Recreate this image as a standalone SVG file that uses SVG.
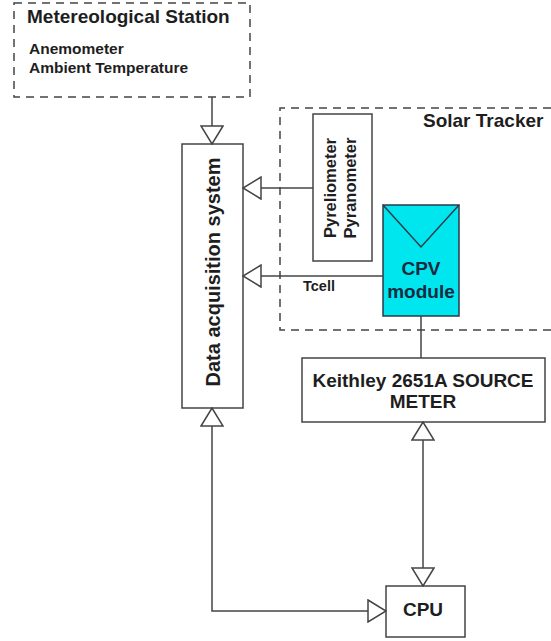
<svg xmlns="http://www.w3.org/2000/svg" width="551" height="641" viewBox="0 0 551 641">
<style>
text{font-family:"Liberation Sans",Arial,sans-serif;font-weight:bold;fill:#1e1e1e}
.box{fill:#fff;stroke:#444;stroke-width:1.5}
.dash{fill:none;stroke:#444;stroke-width:1.5;stroke-dasharray:8 6}
.conn{fill:none;stroke:#444;stroke-width:1.5}
.arr{marker-end:url(#tri)}
.both{marker-start:url(#tri);marker-end:url(#tri)}
</style>
<defs>
<marker id="tri" viewBox="0 0 20 24" refX="19" refY="12" markerWidth="20" markerHeight="24" markerUnits="userSpaceOnUse" orient="auto-start-reverse">
<path d="M1,1 L19,12 L1,23 Z" fill="#fff" stroke="#444" stroke-width="1.5"/>
</marker>
</defs>
<rect width="551" height="641" fill="#fff"/>
<g id="station">
<rect class="dash" x="14" y="3" width="236" height="94"/>
<text x="27" y="23" font-size="19">Metereological Station</text>
<text x="29" y="54" font-size="15.5">Anemometer</text>
<text x="29" y="73" font-size="15.5">Ambient Temperature</text>
</g>
<g id="tracker">
<path class="dash" d="M551,108 H280 V330 H551"/>
<text x="423" y="127" font-size="19">Solar Tracker</text>
</g>
<g id="daq">
<rect class="box" x="182" y="144" width="61" height="264"/>
<text transform="translate(220,272) rotate(-90)" text-anchor="middle" font-size="20">Data acquisition system</text>
</g>
<g id="pyrheliometer">
<rect class="box" x="313" y="114" width="59" height="147"/>
<text transform="translate(336,188) rotate(-90)" text-anchor="middle" font-size="16.5">Pyreliometer</text>
<text transform="translate(356,188) rotate(-90)" text-anchor="middle" font-size="16.5">Pyranometer</text>
</g>
<g id="cpv">
<rect x="383" y="205" width="76" height="111" fill="#00E6EE" stroke="#2a3a4a" stroke-width="1.5"/>
<path d="M383,205 L421,247 L459,205" fill="none" stroke="#2a3a4a" stroke-width="1.5"/>
<text x="421" y="275" font-size="19" text-anchor="middle" style="fill:#1a2a40">CPV</text>
<text x="421" y="298" font-size="19" text-anchor="middle" style="fill:#1a2a40">module</text>
</g>
<g id="keithley">
<rect class="box" x="302" y="358" width="243" height="64"/>
<text x="423" y="387" font-size="19" text-anchor="middle">Keithley 2651A SOURCE</text>
<text x="423" y="408" font-size="19" text-anchor="middle">METER</text>
</g>
<g id="cpu">
<rect class="box" x="386" y="586" width="79" height="51"/>
<text x="423" y="616" font-size="19" text-anchor="middle">CPU</text>
</g>
<g id="connectors">
<path class="conn arr" d="M212,97 V144"/>
<path class="conn arr" d="M313,188 H243"/>
<path class="conn arr" d="M383,276 H243"/>
<text x="303" y="291" font-size="14.5">Tcell</text>
<path class="conn" d="M421,316 V358"/>
<path class="conn both" d="M423,422 V586"/>
<path class="conn both" d="M212,408 V611 H386"/>
</g>
</svg>
